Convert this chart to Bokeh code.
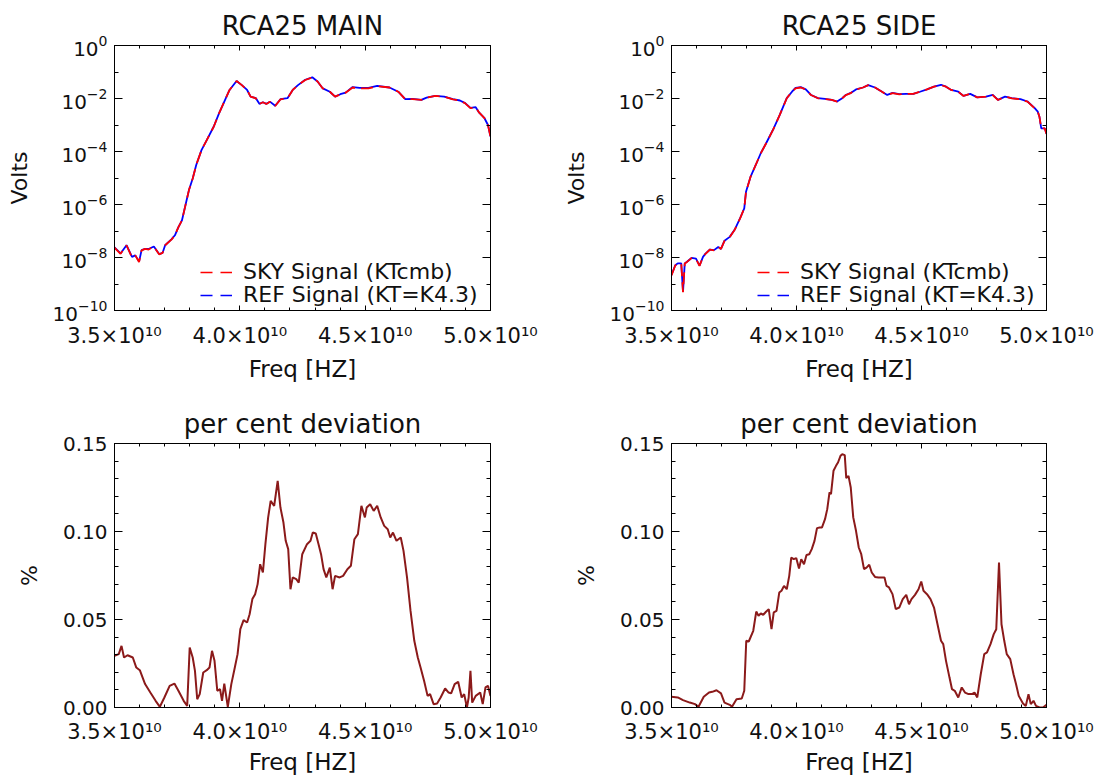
from bokeh.plotting import figure
from bokeh.models import (FixedTicker, LinearAxis, LogAxis, Legend, LegendItem,
                          PrintfTickFormatter, Range1d, CustomJSTickFormatter)
from bokeh.layouts import column, row
from bokeh.embed import file_html
from bokeh.resources import INLINE

FONT = "DejaVu Sans"

# ---------------- data ----------------
main_freq = [3.500e10, 3.524e10, 3.548e10, 3.570e10, 3.583e10, 3.598e10, 3.608e10, 3.622e10, 3.636e10, 3.657e10,
             3.678e10, 3.692e10, 3.702e10, 3.727e10, 3.741e10, 3.755e10, 3.769e10, 3.783e10, 3.797e10, 3.812e10,
             3.826e10, 3.847e10, 3.868e10, 3.896e10, 3.917e10, 3.938e10, 3.959e10, 3.987e10, 4.008e10, 4.029e10,
             4.043e10, 4.064e10, 4.078e10, 4.092e10, 4.106e10, 4.120e10, 4.141e10, 4.162e10, 4.190e10, 4.211e10,
             4.232e10, 4.261e10, 4.289e10, 4.310e10, 4.331e10, 4.359e10, 4.380e10, 4.401e10, 4.422e10, 4.450e10,
             4.478e10, 4.513e10, 4.548e10, 4.597e10, 4.632e10, 4.660e10, 4.689e10, 4.724e10, 4.745e10, 4.780e10,
             4.815e10, 4.850e10, 4.878e10, 4.899e10, 4.920e10, 4.941e10, 4.955e10, 4.976e10, 4.990e10, 5.000e10]
main_sky = [2.34e-8, 1.38e-8, 2.9e-8, 1.0e-8, 1.2e-8, 6.8e-9, 1.86e-8, 2.1e-8, 2.0e-8, 2.6e-8,
            1.32e-8, 1.5e-8, 2.9e-8, 4.7e-8, 6.9e-8, 1.4e-7, 2.5e-7, 9.3e-7, 3.5e-6, 9.5e-6,
            3.1e-5, 1.12e-4, 2.7e-4, 8.7e-4, 2.75e-3, 7.6e-3, 2.1e-2, 4.6e-2, 3.2e-2, 2.1e-2,
            1.17e-2, 1.02e-2, 6.2e-3, 7.2e-3, 6.2e-3, 7.6e-3, 5.2e-3, 9.3e-3, 1.02e-2, 2.1e-2,
            3.2e-2, 5.0e-2, 6.2e-2, 4.4e-2, 2.4e-2, 1.8e-2, 1.17e-2, 1.44e-2, 1.66e-2, 2.6e-2,
            2.4e-2, 2.4e-2, 2.9e-2, 2.6e-2, 1.8e-2, 9.3e-3, 9.5e-3, 8.8e-3, 1.07e-2, 1.25e-2,
            1.17e-2, 9.3e-3, 8.3e-3, 6.6e-3, 4.3e-3, 4.6e-3, 2.9e-3, 1.8e-3, 1.0e-3, 3.6e-4]
main_ref = [2.40e-8, 1.42e-8, 2.9e-8, 1.05e-8, 1.2e-8, 7.0e-9, 1.9e-8, 2.1e-8, 2.1e-8, 2.6e-8,
            1.35e-8, 1.5e-8, 2.9e-8, 4.8e-8, 6.9e-8, 1.4e-7, 2.5e-7, 9.4e-7, 3.5e-6, 9.6e-6,
            3.1e-5, 1.13e-4, 2.7e-4, 8.8e-4, 2.76e-3, 7.6e-3, 2.1e-2, 4.6e-2, 3.2e-2, 2.1e-2,
            1.18e-2, 1.03e-2, 6.3e-3, 7.2e-3, 6.3e-3, 7.6e-3, 5.3e-3, 9.4e-3, 1.03e-2, 2.1e-2,
            3.2e-2, 5.1e-2, 6.3e-2, 4.4e-2, 2.4e-2, 1.8e-2, 1.18e-2, 1.45e-2, 1.67e-2, 2.7e-2,
            2.5e-2, 2.5e-2, 3.0e-2, 2.6e-2, 1.8e-2, 9.4e-3, 9.6e-3, 8.9e-3, 1.08e-2, 1.26e-2,
            1.18e-2, 9.4e-3, 8.4e-3, 6.7e-3, 4.4e-3, 4.7e-3, 2.9e-3, 1.8e-3, 1.0e-3, 3.7e-4]

side_freq = [3.500e10, 3.515e10, 3.525e10, 3.539e10, 3.546e10, 3.553e10, 3.562e10, 3.580e10, 3.598e10, 3.612e10,
             3.626e10, 3.636e10, 3.654e10, 3.670e10, 3.687e10, 3.698e10, 3.712e10, 3.733e10, 3.753e10, 3.774e10,
             3.791e10, 3.798e10, 3.816e10, 3.837e10, 3.857e10, 3.878e10, 3.906e10, 3.933e10, 3.961e10, 3.982e10,
             3.996e10, 4.017e10, 4.037e10, 4.058e10, 4.086e10, 4.114e10, 4.141e10, 4.162e10, 4.183e10, 4.197e10,
             4.217e10, 4.238e10, 4.266e10, 4.287e10, 4.314e10, 4.342e10, 4.363e10, 4.384e10, 4.411e10, 4.439e10,
             4.467e10, 4.494e10, 4.522e10, 4.550e10, 4.578e10, 4.598e10, 4.619e10, 4.647e10, 4.668e10, 4.695e10,
             4.723e10, 4.758e10, 4.785e10, 4.806e10, 4.834e10, 4.861e10, 4.896e10, 4.924e10, 4.952e10, 4.965e10,
             4.972e10, 4.979e10, 4.993e10, 5.000e10]
side_sky = [2.1e-9, 5.0e-9, 5.9e-9, 5.9e-9, 4.9e-10, 5.9e-9, 6.8e-9, 9.5e-9, 8.9e-9, 4.8e-9,
            1.05e-8, 1.38e-8, 2.0e-8, 1.86e-8, 2.5e-8, 2.1e-8, 4.2e-8, 5.9e-8, 1.12e-7, 2.95e-7,
            7.1e-7, 3.0e-6, 1.1e-5, 3.1e-5, 8.5e-5, 2.0e-4, 6.5e-4, 2.4e-3, 1.02e-2, 1.8e-2,
            2.4e-2, 2.6e-2, 2.2e-2, 1.35e-2, 1.02e-2, 9.6e-3, 8.8e-3, 7.6e-3, 1.02e-2, 1.35e-2,
            1.6e-2, 2.2e-2, 2.6e-2, 3.2e-2, 2.6e-2, 1.8e-2, 1.35e-2, 1.6e-2, 1.44e-2, 1.5e-2,
            1.5e-2, 1.8e-2, 2.2e-2, 2.8e-2, 3.2e-2, 2.8e-2, 2.1e-2, 1.8e-2, 1.25e-2, 1.5e-2,
            1.1e-2, 1.17e-2, 1.35e-2, 8.8e-3, 1.17e-2, 1.02e-2, 9.3e-3, 7.6e-3, 4.3e-3, 3.2e-3,
            2.0e-3, 7.4e-4, 7.4e-4, 4.6e-4]
side_ref = [2.2e-9, 5.1e-9, 6.0e-9, 6.0e-9, 5.0e-10, 6.0e-9, 6.9e-9, 9.6e-9, 9.0e-9, 4.9e-9,
            1.06e-8, 1.4e-8, 2.0e-8, 1.9e-8, 2.5e-8, 2.1e-8, 4.3e-8, 6.0e-8, 1.13e-7, 2.97e-7,
            7.2e-7, 3.0e-6, 1.1e-5, 3.1e-5, 8.6e-5, 2.0e-4, 6.6e-4, 2.4e-3, 1.03e-2, 1.8e-2,
            2.5e-2, 2.7e-2, 2.2e-2, 1.36e-2, 1.03e-2, 9.7e-3, 8.9e-3, 7.7e-3, 1.03e-2, 1.36e-2,
            1.62e-2, 2.2e-2, 2.6e-2, 3.2e-2, 2.6e-2, 1.8e-2, 1.36e-2, 1.62e-2, 1.45e-2, 1.5e-2,
            1.5e-2, 1.8e-2, 2.2e-2, 2.8e-2, 3.3e-2, 2.8e-2, 2.1e-2, 1.8e-2, 1.26e-2, 1.5e-2,
            1.1e-2, 1.18e-2, 1.36e-2, 8.9e-3, 1.18e-2, 1.03e-2, 9.4e-3, 7.7e-3, 4.4e-3, 3.2e-3,
            2.0e-3, 7.5e-4, 7.5e-4, 4.7e-4]

devmain_freq = [3.500e10, 3.517e10, 3.528e10, 3.538e10, 3.552e10, 3.573e10, 3.587e10, 3.601e10, 3.622e10, 3.643e10,
                3.664e10, 3.681e10, 3.699e10, 3.720e10, 3.739e10, 3.755e10, 3.776e10, 3.790e10, 3.800e10, 3.812e10,
                3.821e10, 3.830e10, 3.840e10, 3.854e10, 3.868e10, 3.879e10, 3.889e10, 3.899e10, 3.910e10, 3.921e10,
                3.929e10, 3.938e10, 3.952e10, 3.966e10, 3.980e10, 3.991e10, 4.002e10, 4.015e10, 4.029e10, 4.039e10,
                4.050e10, 4.061e10, 4.071e10, 4.081e10, 4.092e10, 4.102e10, 4.113e10, 4.123e10, 4.137e10, 4.151e10,
                4.162e10, 4.174e10, 4.183e10, 4.193e10, 4.202e10, 4.211e10, 4.225e10, 4.235e10, 4.249e10, 4.268e10,
                4.282e10, 4.291e10, 4.303e10, 4.314e10, 4.324e10, 4.334e10, 4.345e10, 4.359e10, 4.370e10, 4.380e10,
                4.398e10, 4.412e10, 4.429e10, 4.443e10, 4.457e10, 4.471e10, 4.485e10, 4.499e10, 4.506e10, 4.520e10,
                4.534e10, 4.548e10, 4.562e10, 4.576e10, 4.590e10, 4.600e10, 4.611e10, 4.625e10, 4.642e10, 4.653e10,
                4.667e10, 4.681e10, 4.696e10, 4.710e10, 4.721e10, 4.735e10, 4.749e10, 4.759e10, 4.773e10, 4.787e10,
                4.801e10, 4.819e10, 4.833e10, 4.843e10, 4.857e10, 4.871e10, 4.885e10, 4.895e10, 4.906e10, 4.913e10,
                4.920e10, 4.927e10, 4.941e10, 4.959e10, 4.969e10, 4.980e10, 4.990e10, 5.000e10]
devmain_pct = [0.0294, 0.0303, 0.0350, 0.0284, 0.0297, 0.0284, 0.0227, 0.0212, 0.0133, 0.0085,
               0.0038, 0.0004, 0.0057, 0.0123, 0.0136, 0.0095, 0.0038, 0.0009, 0.0341, 0.0284,
               0.0208, 0.0047, 0.0076, 0.0199, 0.0212, 0.0227, 0.0322, 0.0265, 0.0095, 0.0104,
               0.0038, 0.0136, 0.0004, 0.0133, 0.0227, 0.0303, 0.0445, 0.0496, 0.0483, 0.0530,
               0.0616, 0.0644, 0.0701, 0.0814, 0.0767, 0.0928, 0.1080, 0.1174, 0.1146, 0.1288,
               0.1136, 0.1051, 0.0947, 0.0900, 0.0672, 0.0739, 0.0729, 0.0710, 0.0871, 0.0928,
               0.0947, 0.0994, 0.0989, 0.0928, 0.0871, 0.0786, 0.0739, 0.0795, 0.0672, 0.0748,
               0.0739, 0.0748, 0.0786, 0.0805, 0.0956, 0.0985, 0.1146, 0.1080, 0.1136, 0.1155,
               0.1117, 0.1146, 0.1080, 0.1032, 0.1013, 0.0966, 0.0994, 0.0947, 0.0966, 0.0890,
               0.0739, 0.0549, 0.0379, 0.0284, 0.0227, 0.0152, 0.0066, 0.0076, 0.0019, 0.0023,
               0.0057, 0.0108, 0.0085, 0.0080, 0.0133, 0.0146, 0.0057, 0.0076, 0.0000, 0.0057,
               0.0208, 0.0028, 0.0066, 0.0085, 0.0019, 0.0114, 0.0123, 0.0066]

devside_freq = [3.500e10, 3.525e10, 3.546e10, 3.573e10, 3.594e10, 3.608e10, 3.629e10, 3.650e10, 3.663e10, 3.680e10,
                3.698e10, 3.712e10, 3.733e10, 3.742e10, 3.760e10, 3.781e10, 3.791e10, 3.799e10, 3.809e10, 3.827e10,
                3.839e10, 3.848e10, 3.857e10, 3.867e10, 3.878e10, 3.889e10, 3.900e10, 3.909e10, 3.920e10, 3.931e10,
                3.940e10, 3.950e10, 3.961e10, 3.971e10, 3.979e10, 3.989e10, 3.999e10, 4.010e10, 4.019e10, 4.030e10,
                4.040e10, 4.051e10, 4.061e10, 4.072e10, 4.082e10, 4.093e10, 4.102e10, 4.114e10, 4.123e10, 4.132e10,
                4.138e10, 4.148e10, 4.158e10, 4.166e10, 4.176e10, 4.183e10, 4.193e10, 4.199e10, 4.208e10, 4.217e10,
                4.227e10, 4.238e10, 4.249e10, 4.259e10, 4.270e10, 4.280e10, 4.291e10, 4.301e10, 4.314e10, 4.328e10,
                4.342e10, 4.352e10, 4.360e10, 4.370e10, 4.384e10, 4.397e10, 4.411e10, 4.425e10, 4.439e10, 4.450e10,
                4.460e10, 4.474e10, 4.488e10, 4.499e10, 4.508e10, 4.522e10, 4.536e10, 4.550e10, 4.564e10, 4.578e10,
                4.587e10, 4.598e10, 4.612e10, 4.622e10, 4.633e10, 4.647e10, 4.661e10, 4.674e10, 4.688e10, 4.702e10,
                4.712e10, 4.723e10, 4.737e10, 4.751e10, 4.762e10, 4.776e10, 4.789e10, 4.799e10, 4.810e10, 4.820e10,
                4.831e10, 4.841e10, 4.855e10, 4.868e10, 4.878e10, 4.889e10, 4.906e10, 4.917e10, 4.928e10, 4.937e10,
                4.948e10, 4.958e10, 4.972e10, 4.986e10, 5.000e10]
devside_pct = [0.0061, 0.0057, 0.0042, 0.0028, 0.0019, 0.0004, 0.0061, 0.0085, 0.0089, 0.0098,
               0.0080, 0.0028, 0.0015, 0.0004, 0.0047, 0.0051, 0.0095, 0.0379, 0.0375, 0.0436,
               0.0545, 0.0521, 0.0534, 0.0527, 0.0544, 0.0559, 0.0445, 0.0540, 0.0549, 0.0653,
               0.0663, 0.0691, 0.0672, 0.0748, 0.0852, 0.0843, 0.0849, 0.0790, 0.0843, 0.0814,
               0.0867, 0.0871, 0.0900, 0.0947, 0.1019, 0.1023, 0.1023, 0.1070, 0.1127, 0.1222,
               0.1212, 0.1345, 0.1373, 0.1392, 0.1430, 0.1439, 0.1434, 0.1303, 0.1316, 0.1250,
               0.1080, 0.1004, 0.0909, 0.0871, 0.0786, 0.0795, 0.0811, 0.0767, 0.0742, 0.0739,
               0.0739, 0.0739, 0.0691, 0.0682, 0.0644, 0.0559, 0.0568, 0.0616, 0.0640, 0.0587,
               0.0616, 0.0640, 0.0672, 0.0716, 0.0663, 0.0644, 0.0616, 0.0568, 0.0473, 0.0379,
               0.0360, 0.0265, 0.0170, 0.0104, 0.0095, 0.0057, 0.0114, 0.0085, 0.0076, 0.0076,
               0.0085, 0.0057, 0.0189, 0.0303, 0.0313, 0.0360, 0.0417, 0.0445, 0.0824, 0.0473,
               0.0379, 0.0303, 0.0275, 0.0189, 0.0133, 0.0066, 0.0023, 0.0009, 0.0076, 0.0019,
               0.0038, 0.0009, 0.0000, 0.0000, 0.0015]

# axis / tick definitions
x_lo, x_hi = 3.5e10, 5.0e10
xtick_vals = [3.5e10, 4.0e10, 4.5e10, 5.0e10]
xtick_labels = ["3.5×10¹⁰", "4.0×10¹⁰", "4.5×10¹⁰", "5.0×10¹⁰"]
xminor_vals = [3.5e10 + i * 1e9 for i in range(16)]

volt_lo, volt_hi = 1e-10, 1.0
volt_ticks = [1e0, 1e-2, 1e-4, 1e-6, 1e-8, 1e-10]
volt_minor = [1e-1, 1e-3, 1e-5, 1e-7, 1e-9]

pct_lo, pct_hi = 0.0, 0.15
pct_ticks = [0.0, 0.05, 0.10, 0.15]
pct_minor = [0.01 * i for i in range(16)]

titles = ["RCA25 MAIN", "RCA25 SIDE", "per cent deviation", "per cent deviation"]
legend_labels = ["SKY Signal (KTcmb)", "REF Signal (KT=K4.3)"]

SKY_COLOR = "#ff0000"
REF_COLOR = "#0000ff"
DEV_COLOR = "#8b1a1a"
TXT = "#111111"

PICK_JS = """
let best = 0;
for (let i = 1; i < vals.length; i++) {
  if (Math.abs(vals[i] - tick) < Math.abs(vals[best] - tick)) { best = i; }
}
return labs[best];
"""


def style_axis(ax, label_px=20, show_labels=True):
    ax.axis_line_color = "black"
    ax.major_tick_line_color = "black"
    ax.minor_tick_line_color = "black"
    ax.major_tick_out = 0
    ax.minor_tick_out = 0
    ax.major_label_text_font = FONT
    ax.axis_label_text_font = FONT
    ax.axis_label_text_font_style = "normal"
    ax.axis_label_text_color = TXT
    if show_labels:
        ax.major_label_text_font_size = "%dpx" % label_px
        ax.major_label_text_color = TXT
    else:
        ax.major_label_text_font_size = "1px"
        ax.major_label_text_color = None
        ax.major_label_standoff = 0


def make_panel(title, log, left, right, top, bottom, width, height, xlabel_standoff, xtick_standoff):
    if log:
        yr = Range1d(volt_lo, volt_hi)
    else:
        yr = Range1d(pct_lo, pct_hi)
    p = figure(width=width, height=height, x_range=Range1d(x_lo, x_hi), y_range=yr,
               y_axis_type="log" if log else "linear",
               output_backend="svg", toolbar_location=None, title=title,
               min_border_left=left, min_border_right=right,
               min_border_top=top, min_border_bottom=bottom)
    p.xgrid.visible = False
    p.ygrid.visible = False
    p.outline_line_color = "black"
    p.background_fill_color = "white"
    p.border_fill_color = "white"
    p.title.align = "center"
    p.title.text_font = FONT
    p.title.text_font_size = "26px"
    p.title.text_font_style = "normal"
    p.title.text_color = TXT
    p.title.standoff = 9

    if log:
        yt = FixedTicker(ticks=volt_ticks, minor_ticks=volt_minor)
    else:
        yt = FixedTicker(ticks=pct_ticks, minor_ticks=pct_minor)

    xb = p.xaxis[0]
    xb.ticker = FixedTicker(ticks=xtick_vals, minor_ticks=xminor_vals)
    xb.formatter = CustomJSTickFormatter(args=dict(vals=xtick_vals, labs=xtick_labels), code=PICK_JS)
    style_axis(xb, label_px=21)
    xb.major_tick_in = 5
    xb.minor_tick_in = 3
    xb.major_label_standoff = xtick_standoff
    xb.axis_label = "Freq [HZ]"
    xb.axis_label_text_font_size = "23px"
    xb.axis_label_standoff = xlabel_standoff

    yl = p.yaxis[0]
    yl.ticker = yt
    style_axis(yl)
    yl.major_tick_in = 8
    yl.minor_tick_in = 4
    yl.major_label_standoff = 7
    yl.axis_label = "Volts" if log else "%"
    yl.axis_label_text_font_size = "22px"
    yl.axis_label_standoff = 18
    if not log:
        yl.formatter = PrintfTickFormatter(format="%.2f")

    xa = LinearAxis(ticker=FixedTicker(ticks=xtick_vals, minor_ticks=xminor_vals))
    style_axis(xa, show_labels=False)
    xa.major_tick_in = 5
    xa.minor_tick_in = 3
    p.add_layout(xa, "above")

    if log:
        yrx = LogAxis(ticker=FixedTicker(ticks=volt_ticks, minor_ticks=volt_minor))
    else:
        yrx = LinearAxis(ticker=FixedTicker(ticks=pct_ticks, minor_ticks=pct_minor))
    style_axis(yrx, show_labels=False)
    yrx.major_tick_in = 8
    yrx.minor_tick_in = 4
    p.add_layout(yrx, "right")
    return p


def add_legend(p, fx, fy):
    r1 = p.line(x=[fx], y=[fy], line_color=SKY_COLOR, line_width=1.5, line_dash="12 8")
    r2 = p.line(x=[fx], y=[fy], line_color=REF_COLOR, line_width=1.5, line_dash="12 8")
    for r, lab, yloc in ((r1, legend_labels[0], 26), (r2, legend_labels[1], 3)):
        lg = Legend(items=[LegendItem(label=lab, renderers=[r])], location=(86, yloc),
                    border_line_color=None, background_fill_alpha=0, padding=0, margin=0,
                    spacing=0, glyph_width=32, glyph_height=20, label_standoff=11,
                    label_height=20, label_text_font=FONT, label_text_font_size="22px",
                    label_text_color=TXT)
        p.add_layout(lg, "center")


# top-left: MAIN
p1 = make_panel(titles[0], True, 114, 57, 45, 80, 547, 390, 5, 13)
p1.line(main_freq, main_ref, line_color=REF_COLOR, line_width=1.8)
p1.line(main_freq, main_sky, line_color=SKY_COLOR, line_width=1.8, line_dash="12 6")
add_legend(p1, main_freq[0], main_sky[0])

# top-right: SIDE
p2 = make_panel(titles[1], True, 124, 48, 45, 80, 547, 390, 5, 13)
p2.line(side_freq, side_ref, line_color=REF_COLOR, line_width=1.8)
p2.line(side_freq, side_sky, line_color=SKY_COLOR, line_width=1.8, line_dash="12 6")
add_legend(p2, side_freq[0], side_sky[0])

# bottom-left: deviation MAIN
p3 = make_panel(titles[2], False, 114, 57, 53, 71, 547, 388, 2, 12)
p3.line(devmain_freq, devmain_pct, line_color=DEV_COLOR, line_width=2)

# bottom-right: deviation SIDE
p4 = make_panel(titles[3], False, 124, 48, 53, 71, 547, 388, 2, 12)
p4.line(devside_freq, devside_pct, line_color=DEV_COLOR, line_width=2)

layout = column(row(p1, p2), row(p3, p4))
open("out.html", "w").write(file_html(layout, INLINE))
